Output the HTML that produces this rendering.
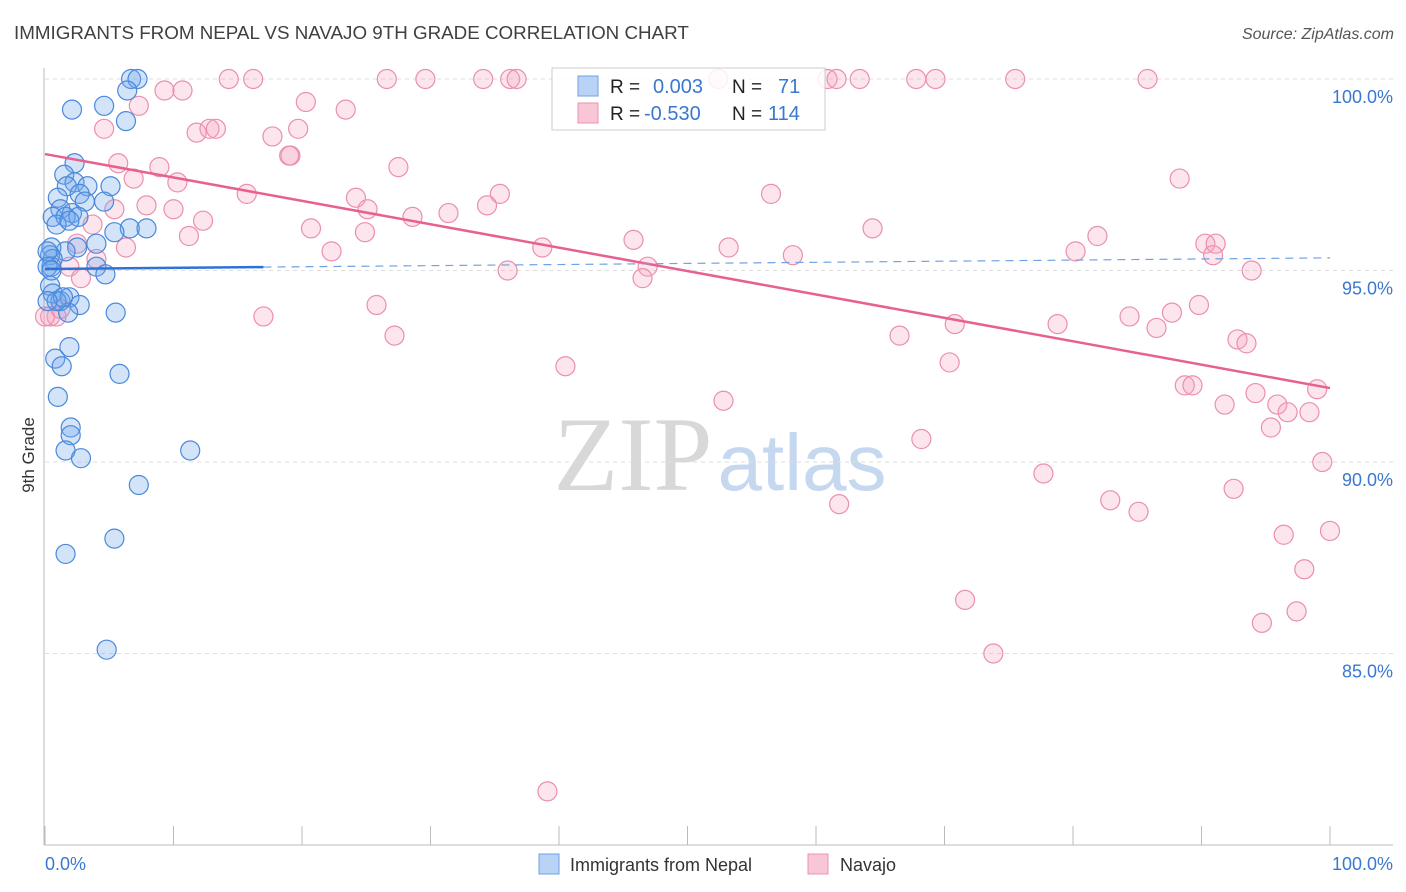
<!DOCTYPE html>
<html><head><meta charset="utf-8"><style>
body{margin:0;background:#fff;font-family:"Liberation Sans",sans-serif}
svg{display:block}
</style></head><body>
<svg id="chart" width="1406" height="892" viewBox="0 0 1406 892" xmlns="http://www.w3.org/2000/svg">
<text x="14" y="39" font-size="18.8" fill="#404040" font-family="Liberation Sans">IMMIGRANTS FROM NEPAL VS NAVAJO 9TH GRADE CORRELATION CHART</text>
<text x="1394" y="39" font-size="16" fill="#555" text-anchor="end" font-style="italic">Source: ZipAtlas.com</text>
<text transform="translate(34,455) rotate(-90)" font-size="17" fill="#333" text-anchor="middle">9th Grade</text>
<g>
<text x="633" y="490" font-size="106" fill="#d8d8d8" font-family="Liberation Serif" text-anchor="middle">ZIP</text>
<text x="802" y="490" font-size="80" fill="#c5d8f0" text-anchor="middle">atlas</text>
</g>
<g id="grid"></g>
<g id="axes"></g>
<g id="pink-pts"></g>
<g id="blue-pts"></g>
<g id="lines"></g>
<g>
<rect x="552" y="68" width="273" height="62" fill="#fff" fill-opacity="0.85" stroke="#ccc"/>
<rect x="578" y="76" width="20" height="20" fill="#b8d3f5" stroke="#6fa2e6"/>
<rect x="578" y="103" width="20" height="20" fill="#f9c6d6" stroke="#ec93b1"/>
<text x="610" y="93" font-size="19" fill="#222">R = </text><text x="653" y="93" font-size="20" fill="#3a78d0">0.003</text>
<text x="732" y="93" font-size="19" fill="#222">N = </text><text x="778" y="93" font-size="20" fill="#3a78d0">71</text>
<text x="610" y="120" font-size="19" fill="#222">R = </text><text x="644" y="120" font-size="20" fill="#3a78d0">-0.530</text>
<text x="732" y="120" font-size="19" fill="#222">N = </text><text x="768" y="120" font-size="20" fill="#3a78d0">114</text>
</g>
<g>
<rect x="539" y="854" width="20" height="20" fill="#b8d3f5" stroke="#6fa2e6"/>
<text x="570" y="871" font-size="18" fill="#333">Immigrants from Nepal</text>
<rect x="808" y="854" width="20" height="20" fill="#f9c6d6" stroke="#ec93b1"/>
<text x="840" y="871" font-size="18" fill="#333">Navajo</text>
</g>
</svg>
<script>
const yTicks=[100,95,90,85];
const yTickLabels=["100.0%","95.0%","90.0%","85.0%"];
const xTickLabels=["0.0%","100.0%"];
const blueX=[6.7,7.2,6.4,2.1,4.6,6.3,2.3,1.5,2.3,3.3,1.7,5.1,1.0,2.7,3.1,4.6,1.2,2.1,0.6,1.6,2.6,0.9,1.9,6.6,7.9,5.4,4.0,2.5,1.6,0.5,0.4,0.6,0.5,4.0,4.7,0.4,0.6,1.2,1.9,2.7,1.8,5.5,0.9,1.4,1.9,0.8,1.3,5.8,1.0,2.0,2.0,1.6,2.8,11.3,7.3,1.6,5.4,4.8,0.2,0.2,0.2,0.5];
const blueY=[100,100,99.7,99.2,99.3,98.9,97.8,97.5,97.3,97.2,97.2,97.2,96.9,97.0,96.8,96.8,96.6,96.5,96.4,96.4,96.4,96.2,96.3,96.1,96.1,96.0,95.7,95.6,95.5,95.6,95.4,95.3,95.1,95.1,94.9,94.6,94.4,94.2,94.3,94.1,93.9,93.9,94.2,94.3,93.0,92.7,92.5,92.3,91.7,90.9,90.7,90.3,90.1,90.3,89.4,87.6,88.0,85.1,94.2,95.5,95.1,95.0];
const pinkX=[9.3,10.7,14.3,16.2,26.6,29.6,34.1,36.2,36.7,52.4,60.9,61.6,63.4,67.8,69.3,75.5,85.8,7.3,4.6,11.8,12.8,13.3,17.7,19.7,20.3,23.4,19.1,19.0,5.7,8.9,6.9,10.3,15.7,24.2,35.4,27.5,56.5,88.3,7.9,10.0,5.4,12.3,3.7,11.2,20.7,25.1,24.9,28.6,31.4,34.4,2.5,6.3,22.3,38.7,45.8,53.2,58.2,64.4,80.2,81.9,90.3,91.1,90.9,93.9,36.0,46.9,46.5,4.0,1.9,2.8,0.9,17.0,25.8,27.2,40.5,66.5,70.8,78.8,84.4,87.7,89.8,86.5,92.8,93.5,70.4,88.7,89.3,94.2,52.8,91.8,95.9,96.7,98.4,95.4,99.0,68.2,77.7,82.9,85.1,92.5,99.4,61.8,96.4,100,98.0,71.6,97.4,94.7,73.8,39.1,0.4,0,1.2];
const pinkY=[99.7,99.7,100,100,100,100,100,100,100,100,100,100,100,100,100,100,100,99.3,98.7,98.6,98.7,98.7,98.5,98.7,99.4,99.2,98.0,98.0,97.8,97.7,97.4,97.3,97.0,96.9,97.0,97.7,97.0,97.4,96.7,96.6,96.6,96.3,96.2,95.9,96.1,96.6,96.0,96.4,96.5,96.7,95.7,95.6,95.5,95.6,95.8,95.6,95.4,96.1,95.5,95.9,95.7,95.7,95.4,95.0,95.0,95.1,94.8,95.3,95.1,94.8,93.8,93.8,94.1,93.3,92.5,93.3,93.6,93.6,93.8,93.9,94.1,93.5,93.2,93.1,92.6,92.0,92.0,91.8,91.6,91.5,91.5,91.3,91.3,90.9,91.9,90.6,89.7,89.0,88.7,89.3,90.0,88.9,88.1,88.2,87.2,86.4,86.1,85.8,85.0,81.4,93.8,93.8,94.0];
const pinkTrend=[98.04,91.93];
const blueTrend=[95.04,95.33];
const NS="http://www.w3.org/2000/svg";
const X=v=>45+v*12.85, Y=v=>79+(100-v)*38.3;
function mk(tag,attrs,parent){const e=document.createElementNS(NS,tag);for(const k in attrs)e.setAttribute(k,attrs[k]);parent.appendChild(e);return e;}
const grid=document.getElementById('grid'),axes=document.getElementById('axes');
yTicks.forEach((t,i)=>{
 const l=mk('line',{x1:45,x2:1393,y1:Y(t),y2:Y(t),stroke:'#ddd','stroke-dasharray':'4,4'},grid);
 
 
 const tx=mk('text',{x:1393,y:Y(t)+24,'font-size':18,fill:'#3a78d0','text-anchor':'end'},grid);
 tx.textContent=yTickLabels[i];
 
 
});
let a=mk('line',{x1:44,x2:44,y1:68,y2:845,stroke:'#bbb'},axes);


a=mk('line',{x1:44,x2:1393,y1:845,y2:845,stroke:'#bbb'},axes);


for(let i=0;i<=10;i++){const t=mk('line',{x1:X(i*10),x2:X(i*10),y1:826,y2:845,stroke:'#bbb'},axes);
 
 }
let xl=mk('text',{x:45,y:870,'font-size':18,fill:'#3a78d0'},axes);xl.textContent=xTickLabels[0];


xl=mk('text',{x:1393,y:870,'font-size':18,fill:'#3a78d0','text-anchor':'end'},axes);xl.textContent=xTickLabels[1];


const pg=document.getElementById('pink-pts');
pinkX.forEach((v,i)=>{const c=mk('circle',{cx:X(v),cy:Y(pinkY[i]),r:9.5,fill:'rgba(244,160,190,0.28)',stroke:'#eb8fae','stroke-width':1.2},pg);
 
 });
const bg=document.getElementById('blue-pts');
blueX.forEach((v,i)=>{const c=mk('circle',{cx:X(v),cy:Y(blueY[i]),r:9.5,fill:'rgba(110,165,235,0.3)',stroke:'#4a88dc','stroke-width':1.2},bg);
 
 });
const lg=document.getElementById('lines');
let ln=mk('line',{x1:X(0),y1:Y(pinkTrend[0]),x2:X(100),y2:Y(pinkTrend[1]),stroke:'#e8608f','stroke-width':2.5},lg);


const bAt=v=>blueTrend[0]+(blueTrend[1]-blueTrend[0])*v/100;
ln=mk('line',{x1:X(0),y1:Y(bAt(0)),x2:X(17),y2:Y(bAt(17)),stroke:'#2f72d6','stroke-width':2.5},lg);


ln=mk('line',{x1:X(17),y1:Y(bAt(17)),x2:X(100),y2:Y(bAt(100)),stroke:'#6fa2e6','stroke-width':1.2,'stroke-dasharray':'8,6'},lg);


</script>
</body></html>
